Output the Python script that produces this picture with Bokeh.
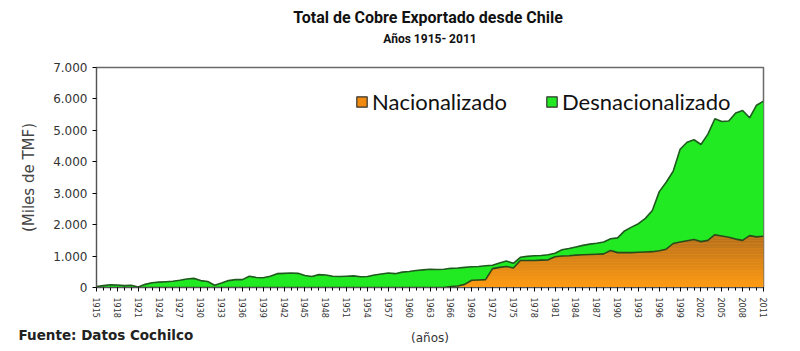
import numpy as np
from bokeh.plotting import figure
from bokeh.models import ColumnDataSource, FixedTicker, Legend, LegendItem, Range1d, Title
from bokeh.embed import file_html
from bokeh.resources import INLINE

years = list(range(1915, 2012))

# Total exported copper (thousand TMF)
total = [
    30, 60, 85, 80, 60, 70, 15, 100, 150, 170,          # 1915-1924
    185, 200, 230, 270, 290, 220, 190, 70, 140, 220,    # 1925-1934
    250, 250, 360, 320, 310, 360, 440, 450, 460, 450,   # 1935-1944
    380, 350, 410, 400, 360, 350, 360, 370, 340, 350,   # 1945-1954
    400, 430, 460, 440, 490, 510, 540, 560, 580, 575,   # 1955-1964
    580, 610, 620, 640, 660, 670, 690, 710, 780, 840,   # 1965-1974
    770, 960, 990, 1010, 1020, 1040, 1090, 1200, 1240, 1290,  # 1975-1984
    1340, 1380, 1410, 1450, 1550, 1580, 1800, 1920, 2030, 2200,  # 1985-1994
    2450, 3050, 3350, 3700, 4400, 4620, 4700, 4550, 4880, 5370,  # 1995-2004
    5280, 5300, 5550, 5630, 5400, 5800, 5930,            # 2005-2011
]

# Nationalized part (thousand TMF)
nacionalizado = [
    0, 0, 0, 0, 0, 0, 0, 0, 0, 0,                 # 1915-1924
    0, 0, 0, 0, 0, 0, 0, 0, 0, 0,                 # 1925-1934
    0, 0, 0, 0, 0, 0, 0, 0, 0, 0,                 # 1935-1944
    0, 0, 0, 0, 0, 0, 0, 0, 0, 0,                 # 1945-1954
    0, 0, 0, 0, 0, 0, 0, 0, 0, 0,                 # 1955-1964
    0, 30, 50, 100, 230, 240, 250, 600, 640, 670,  # 1965-1974
    620, 860, 860, 860, 870, 880, 980, 1000, 1010, 1030,  # 1975-1984
    1040, 1050, 1060, 1070, 1180, 1110, 1110, 1110, 1120, 1130,  # 1985-1994
    1140, 1170, 1220, 1400, 1450, 1490, 1530, 1460, 1500, 1680,  # 1995-2004
    1640, 1600, 1540, 1500, 1650, 1610, 1630,      # 2005-2011
]

y_ticks = [0, 1000, 2000, 3000, 4000, 5000, 6000, 7000]
y_tick_labels = ["0", "1.000", "2.000", "3.000", "4.000", "5.000", "6.000", "7.000"]
x_ticks = years[::3]

nat = np.array(nacionalizado, dtype=float)
tot = np.array(total, dtype=float)

src = ColumnDataSource(dict(x=years, nat=nat, tot=tot))

p = figure(width=800, height=351, output_backend="svg", toolbar_location=None,
           x_range=Range1d(1915, 2011), y_range=Range1d(0, 7000),
           min_border_left=96, min_border_right=37, min_border_top=67, min_border_bottom=64)
p.grid.visible = False
p.outline_line_color = "#6a6a6a"
p.outline_line_width = 1.5
p.background_fill_color = "white"
p.border_fill_color = "white"

# Nationalized area with vertical gradient (bands)
def mix(c1, c2, t):
    a = [int(c1[i:i + 2], 16) for i in (1, 3, 5)]
    b = [int(c2[i:i + 2], 16) for i in (1, 3, 5)]
    return "#%02x%02x%02x" % tuple(int(round(a[k] + (b[k] - a[k]) * t)) for k in range(3))

bottom_col = "#ff9c14"
top_col = "#b06c1e"
p.varea(x="x", y1=0, y2="nat", source=src, fill_color=bottom_col)
step = 50
levels = np.arange(0, 1750, step)
for lo in levels:
    hi = lo + step
    t = min(1.0, (lo + step / 2) / 1700.0)
    y1 = np.minimum(nat, lo)
    y2 = np.minimum(nat, hi + 2)
    p.varea(x=years, y1=y1, y2=y2, fill_color=mix(bottom_col, top_col, t))

# Denationalized (green) on top
p.varea(x="x", y1="nat", y2="tot", source=src, fill_color="#22ea22")
p.line(x="x", y="tot", source=src, line_color="#1f5a1f", line_width=1.6)
p.line(x="x", y="nat", source=src, line_color="#2a4a1a", line_width=1.6)

# Legend proxies (empty quads, only used for the legend swatches)
prox_n = p.quad(left=[np.nan], right=[np.nan], top=[np.nan], bottom=[np.nan],
                fill_color="#f08a10", line_color="#333333", line_width=1.2)
prox_d = p.quad(left=[np.nan], right=[np.nan], top=[np.nan], bottom=[np.nan],
                fill_color="#22ea22", line_color="#333333", line_width=1.2)
legend = Legend(items=[LegendItem(label="Nacionalizado", renderers=[prox_n]),
                       LegendItem(label="Desnacionalizado", renderers=[prox_d])],
                orientation="horizontal", location=(259, 172),
                label_text_font="Lato", label_text_font_size="22px",
                label_text_color="#111111", glyph_width=13, glyph_height=13,
                label_standoff=4, spacing=38, padding=0, margin=0,
                border_line_color=None, background_fill_alpha=0)
p.add_layout(legend, "center")

# Axes
p.yaxis.ticker = FixedTicker(ticks=y_ticks)
p.yaxis.major_label_overrides = {t: l for t, l in zip(y_ticks, y_tick_labels)}
p.yaxis.major_label_text_font = "DejaVu Sans"
p.yaxis.major_label_text_font_size = "12px"
p.yaxis.major_label_text_color = "#333333"
p.yaxis.axis_label = "(Miles de TMF)"
p.yaxis.axis_label_text_font = "DejaVu Sans"
p.yaxis.axis_label_text_font_size = "15px"
p.yaxis.axis_label_text_font_style = "normal"
p.yaxis.axis_label_text_color = "#444444"
p.yaxis.axis_label_standoff = 12
p.yaxis.minor_tick_line_color = None
p.yaxis.major_tick_out = 4
p.yaxis.major_tick_in = 0
p.yaxis.axis_line_color = "#555555"

p.xaxis.ticker = FixedTicker(ticks=x_ticks, minor_ticks=years)
p.xaxis.major_label_orientation = "vertical"
p.xaxis.major_label_text_font = "DejaVu Sans"
p.xaxis.major_label_text_font_size = "8px"
p.xaxis.major_label_text_color = "#333333"
p.xaxis.major_label_standoff = 6
p.xaxis.major_tick_out = 4
p.xaxis.major_tick_in = 0
p.xaxis.minor_tick_out = 3
p.xaxis.minor_tick_in = 0
p.xaxis.axis_line_color = "#555555"
p.xaxis.axis_label = "(años)"
p.xaxis.axis_label_text_font = "DejaVu Sans"
p.xaxis.axis_label_text_font_size = "12px"
p.xaxis.axis_label_text_font_style = "normal"
p.xaxis.axis_label_text_color = "#333333"
p.xaxis.axis_label_standoff = 10

# Titles and source note
p.add_layout(Title(text="Años 1915- 2011", align="center", standoff=44,
                   text_font="Roboto", text_font_size="12px",
                   text_font_style="bold", text_color="#111111"), "above")
p.add_layout(Title(text="Total de Cobre Exportado  desde Chile", align="center", standoff=-39,
                   text_font="Roboto", text_font_size="16px",
                   text_font_style="bold", text_color="#111111"), "above")
p.add_layout(Title(text="Fuente: Datos Cochilco", align="left", offset=-78, standoff=-42,
                   vertical_align="top",
                   text_font="DejaVu Sans", text_font_size="13.5px",
                   text_font_style="bold", text_color="#222222"), "below")

open("out.html", "w").write(file_html(p, INLINE))
